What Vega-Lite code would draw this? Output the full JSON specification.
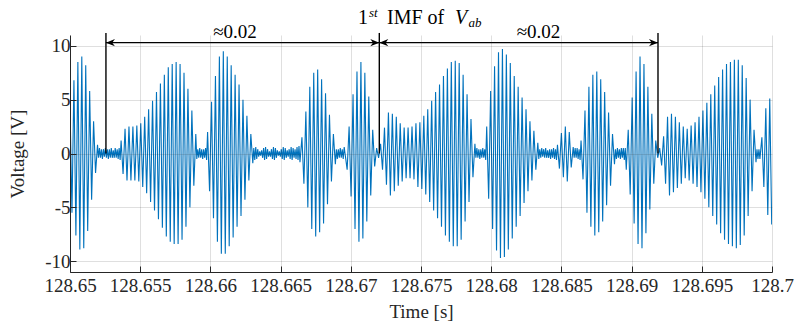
{
"$schema":"https://vega.github.io/schema/vega-lite/v6.json",
"width":702,"height":237,
"autosize":{"type":"none"},
"padding":{"left":70,"top":35,"right":23,"bottom":56},
"background":"white",
"config":{"view":{"stroke":null},"font":"Liberation Serif","text":{"font":"Liberation Serif"}},
"datasets":{
"sig":[
{"t":128.65000,"v":4.5},{"t":128.65014,"v":-5.5},{"t":128.65028,"v":6.8},{"t":128.65042,"v":-7.6},{"t":128.65056,"v":8.5},{"t":128.65070,"v":-8.9},{"t":128.65084,"v":9.0},{"t":128.65098,"v":-8.8},{"t":128.65112,"v":8.2},{"t":128.65126,"v":-7.2},
{"t":128.65140,"v":5.8},{"t":128.65154,"v":-4.3},{"t":128.65168,"v":3.0},{"t":128.65182,"v":-1.8},{"t":128.65196,"v":0.8},
{"t":128.65203,"v":-0.4},{"t":128.65210,"v":0.5},{"t":128.65217,"v":-0.4},{"t":128.65224,"v":0.4},{"t":128.65231,"v":-0.5},{"t":128.65238,"v":0.4},{"t":128.65245,"v":-0.3},{"t":128.65252,"v":0.5},{"t":128.65259,"v":-0.4},{"t":128.65266,"v":0.4},{"t":128.65273,"v":-0.5},{"t":128.65280,"v":0.4},{"t":128.65287,"v":-0.4},{"t":128.65294,"v":0.5},{"t":128.65301,"v":-0.4},{"t":128.65308,"v":0.3},{"t":128.65315,"v":-0.4},{"t":128.65322,"v":0.5},{"t":128.65329,"v":-0.4},{"t":128.65336,"v":0.4},{"t":128.65343,"v":-0.5},{"t":128.65350,"v":0.5},{"t":128.65357,"v":-0.6},
{"t":128.65364,"v":1.2},{"t":128.65378,"v":-1.9},{"t":128.65392,"v":2.3},{"t":128.65406,"v":-2.5},
{"t":128.65420,"v":2.5},{"t":128.65434,"v":-2.5},{"t":128.65448,"v":2.5},{"t":128.65462,"v":-2.5},{"t":128.65476,"v":2.6},{"t":128.65490,"v":-2.6},{"t":128.65504,"v":2.8},{"t":128.65518,"v":-3.1},{"t":128.65532,"v":3.4},{"t":128.65546,"v":-3.7},
{"t":128.65560,"v":4.1},{"t":128.65574,"v":-4.5},{"t":128.65588,"v":4.9},{"t":128.65602,"v":-5.3},{"t":128.65616,"v":5.7},{"t":128.65630,"v":-6.1},{"t":128.65644,"v":6.5},{"t":128.65658,"v":-6.9},{"t":128.65672,"v":7.3},{"t":128.65686,"v":-7.7},
{"t":128.65700,"v":8.0},{"t":128.65714,"v":-8.2},{"t":128.65728,"v":8.3},{"t":128.65742,"v":-8.4},{"t":128.65756,"v":8.5},{"t":128.65770,"v":-8.4},{"t":128.65784,"v":8.3},{"t":128.65798,"v":-8.0},{"t":128.65812,"v":7.5},{"t":128.65826,"v":-6.8},
{"t":128.65840,"v":6.0},{"t":128.65854,"v":-5.0},{"t":128.65868,"v":4.0},{"t":128.65882,"v":-3.0},{"t":128.65896,"v":1.8},
{"t":128.65903,"v":-0.5},{"t":128.65910,"v":0.4},{"t":128.65917,"v":-0.4},{"t":128.65924,"v":0.5},{"t":128.65931,"v":-0.4},{"t":128.65938,"v":0.4},{"t":128.65945,"v":-0.5},{"t":128.65952,"v":0.4},{"t":128.65959,"v":-0.4},{"t":128.65966,"v":0.5},{"t":128.65973,"v":-0.6},
{"t":128.65980,"v":2.0},{"t":128.65994,"v":-3.5},{"t":128.66008,"v":4.8},{"t":128.66022,"v":-6.0},{"t":128.66036,"v":7.2},{"t":128.66050,"v":-8.2},{"t":128.66064,"v":9.0},{"t":128.66078,"v":-9.3},{"t":128.66092,"v":9.5},{"t":128.66106,"v":-9.3},
{"t":128.66120,"v":9.0},{"t":128.66134,"v":-8.6},{"t":128.66148,"v":8.2},{"t":128.66162,"v":-7.8},{"t":128.66176,"v":7.3},{"t":128.66190,"v":-6.8},{"t":128.66204,"v":6.4},{"t":128.66218,"v":-5.8},{"t":128.66232,"v":5.0},{"t":128.66246,"v":-4.3},
{"t":128.66260,"v":3.5},{"t":128.66274,"v":-2.5},{"t":128.66288,"v":1.8},{"t":128.66302,"v":-0.9},
{"t":128.66309,"v":0.5},{"t":128.66316,"v":-0.6},{"t":128.66323,"v":0.6},{"t":128.66330,"v":-0.5},{"t":128.66337,"v":0.4},{"t":128.66344,"v":-0.3},{"t":128.66351,"v":0.2},{"t":128.66358,"v":-0.2},{"t":128.66365,"v":0.3},{"t":128.66372,"v":-0.4},
{"t":128.66379,"v":0.5},{"t":128.66386,"v":-0.6},{"t":128.66393,"v":0.6},{"t":128.66400,"v":-0.5},{"t":128.66407,"v":0.4},{"t":128.66414,"v":-0.3},{"t":128.66421,"v":0.2},{"t":128.66428,"v":-0.3},{"t":128.66435,"v":0.4},{"t":128.66442,"v":-0.5},
{"t":128.66449,"v":0.6},{"t":128.66456,"v":-0.6},{"t":128.66463,"v":0.5},{"t":128.66470,"v":-0.4},{"t":128.66477,"v":0.3},{"t":128.66484,"v":-0.2},{"t":128.66491,"v":0.2},{"t":128.66498,"v":-0.3},{"t":128.66505,"v":0.4},{"t":128.66512,"v":-0.5},
{"t":128.66519,"v":0.6},{"t":128.66526,"v":-0.6},{"t":128.66533,"v":0.5},{"t":128.66540,"v":-0.4},{"t":128.66547,"v":0.3},{"t":128.66554,"v":-0.3},{"t":128.66561,"v":0.4},{"t":128.66568,"v":-0.5},{"t":128.66575,"v":0.6},{"t":128.66582,"v":-0.6},
{"t":128.66589,"v":0.5},{"t":128.66596,"v":-0.4},{"t":128.66603,"v":0.4},{"t":128.66610,"v":-0.5},{"t":128.66617,"v":0.6},{"t":128.66624,"v":-0.6},{"t":128.66631,"v":0.7},{"t":128.66638,"v":-0.8},
{"t":128.66652,"v":1.5},{"t":128.66666,"v":-2.8},
{"t":128.66680,"v":3.9},{"t":128.66694,"v":-5.0},{"t":128.66708,"v":6.2},{"t":128.66722,"v":-7.0},{"t":128.66736,"v":7.5},{"t":128.66750,"v":-7.7},{"t":128.66764,"v":7.8},{"t":128.66778,"v":-7.3},{"t":128.66792,"v":6.9},{"t":128.66806,"v":-6.5},
{"t":128.66820,"v":5.6},{"t":128.66834,"v":-4.7},{"t":128.66848,"v":3.6},{"t":128.66862,"v":-2.6},{"t":128.66876,"v":1.8},{"t":128.66890,"v":-1.0},
{"t":128.66897,"v":0.4},{"t":128.66904,"v":-0.5},{"t":128.66911,"v":0.4},{"t":128.66918,"v":-0.4},{"t":128.66925,"v":0.5},{"t":128.66932,"v":-0.4},{"t":128.66939,"v":0.4},{"t":128.66946,"v":-0.5},{"t":128.66953,"v":0.6},
{"t":128.66974,"v":-1.5},{"t":128.66988,"v":2.5},{"t":128.67002,"v":-4.0},{"t":128.67016,"v":5.5},{"t":128.67030,"v":-7.0},{"t":128.67044,"v":7.6},{"t":128.67058,"v":-8.2},{"t":128.67072,"v":8.5},{"t":128.67086,"v":-7.9},
{"t":128.67100,"v":7.5},{"t":128.67114,"v":-6.3},{"t":128.67128,"v":5.3},{"t":128.67142,"v":-3.9},{"t":128.67156,"v":2.2},{"t":128.67170,"v":-1.2},{"t":128.67184,"v":0.5},{"t":128.67198,"v":-0.4},{"t":128.67212,"v":0.9},{"t":128.67226,"v":-1.5},
{"t":128.67240,"v":2.4},{"t":128.67254,"v":-2.9},{"t":128.67268,"v":3.8},{"t":128.67282,"v":-3.9},{"t":128.67296,"v":3.7},{"t":128.67310,"v":-3.5},{"t":128.67324,"v":3.4},{"t":128.67338,"v":-3.0},{"t":128.67352,"v":2.8},{"t":128.67366,"v":-2.6},
{"t":128.67380,"v":2.4},{"t":128.67394,"v":-2.3},{"t":128.67408,"v":2.4},{"t":128.67422,"v":-2.3},{"t":128.67436,"v":2.5},{"t":128.67450,"v":-2.4},{"t":128.67464,"v":2.8},{"t":128.67478,"v":-3.1},{"t":128.67492,"v":2.9},{"t":128.67506,"v":-3.3},
{"t":128.67520,"v":3.5},{"t":128.67534,"v":-3.8},{"t":128.67548,"v":4.1},{"t":128.67562,"v":-4.5},{"t":128.67576,"v":4.9},{"t":128.67590,"v":-5.3},{"t":128.67604,"v":5.7},{"t":128.67618,"v":-6.0},{"t":128.67632,"v":6.4},{"t":128.67646,"v":-6.8},
{"t":128.67660,"v":7.2},{"t":128.67674,"v":-7.6},{"t":128.67688,"v":7.9},{"t":128.67702,"v":-8.2},{"t":128.67716,"v":8.5},{"t":128.67730,"v":-8.6},{"t":128.67744,"v":8.6},{"t":128.67758,"v":-8.6},{"t":128.67772,"v":8.4},{"t":128.67786,"v":-8.0},
{"t":128.67800,"v":7.3},{"t":128.67814,"v":-6.3},{"t":128.67828,"v":5.5},{"t":128.67842,"v":-4.5},{"t":128.67856,"v":3.2},{"t":128.67870,"v":-2.2},{"t":128.67884,"v":0.9},
{"t":128.67891,"v":-0.4},{"t":128.67898,"v":0.5},{"t":128.67905,"v":-0.4},{"t":128.67912,"v":0.4},{"t":128.67919,"v":-0.5},{"t":128.67926,"v":0.4},{"t":128.67933,"v":-0.4},{"t":128.67940,"v":0.5},{"t":128.67947,"v":-0.4},{"t":128.67954,"v":0.4},{"t":128.67961,"v":-0.6},
{"t":128.67968,"v":2.5},{"t":128.67982,"v":-4.2},{"t":128.67996,"v":5.8},{"t":128.68010,"v":-7.0},{"t":128.68024,"v":8.1},{"t":128.68038,"v":-9.0},{"t":128.68052,"v":9.4},{"t":128.68066,"v":-9.7},
{"t":128.68080,"v":9.7},{"t":128.68094,"v":-9.6},{"t":128.68108,"v":9.2},{"t":128.68122,"v":-8.9},{"t":128.68136,"v":8.4},{"t":128.68150,"v":-7.9},{"t":128.68164,"v":7.2},{"t":128.68178,"v":-6.8},{"t":128.68192,"v":6.2},{"t":128.68206,"v":-5.8},
{"t":128.68220,"v":5.2},{"t":128.68234,"v":-4.6},{"t":128.68248,"v":4.1},{"t":128.68262,"v":-3.5},{"t":128.68276,"v":3.0},{"t":128.68290,"v":-2.5},{"t":128.68304,"v":2.1},{"t":128.68318,"v":-1.5},{"t":128.68332,"v":1.0},
{"t":128.68339,"v":-0.5},{"t":128.68346,"v":0.4},{"t":128.68353,"v":-0.4},{"t":128.68360,"v":0.5},{"t":128.68367,"v":-0.3},{"t":128.68374,"v":0.4},{"t":128.68381,"v":-0.4},{"t":128.68388,"v":0.5},{"t":128.68395,"v":-0.4},{"t":128.68402,"v":0.3},{"t":128.68409,"v":-0.4},{"t":128.68416,"v":0.4},{"t":128.68423,"v":-0.5},{"t":128.68430,"v":0.4},{"t":128.68437,"v":-0.4},{"t":128.68444,"v":0.5},{"t":128.68451,"v":-0.5},{"t":128.68458,"v":0.4},{"t":128.68465,"v":-0.6},
{"t":128.68472,"v":0.8},{"t":128.68486,"v":-1.4},
{"t":128.68500,"v":1.9},{"t":128.68514,"v":-2.2},{"t":128.68528,"v":2.5},{"t":128.68542,"v":-2.6},{"t":128.68556,"v":2.0},{"t":128.68570,"v":-1.3},{"t":128.68584,"v":0.6},
{"t":128.68591,"v":-0.4},{"t":128.68598,"v":0.5},{"t":128.68605,"v":-0.4},{"t":128.68612,"v":0.5},{"t":128.68619,"v":-0.5},{"t":128.68626,"v":0.4},{"t":128.68633,"v":-0.6},
{"t":128.68640,"v":1.2},{"t":128.68654,"v":-2.4},{"t":128.68668,"v":4.0},{"t":128.68682,"v":-5.5},{"t":128.68696,"v":6.2},{"t":128.68710,"v":-6.8},{"t":128.68724,"v":7.3},{"t":128.68738,"v":-7.6},{"t":128.68752,"v":7.6},{"t":128.68766,"v":-7.3},
{"t":128.68780,"v":6.9},{"t":128.68794,"v":-6.3},{"t":128.68808,"v":5.7},{"t":128.68822,"v":-4.8},{"t":128.68836,"v":3.8},{"t":128.68850,"v":-3.0},{"t":128.68864,"v":1.8},{"t":128.68878,"v":-1.0},
{"t":128.68885,"v":0.4},{"t":128.68892,"v":-0.5},{"t":128.68899,"v":0.5},{"t":128.68906,"v":-0.4},{"t":128.68913,"v":0.4},{"t":128.68920,"v":-0.5},{"t":128.68927,"v":0.5},{"t":128.68934,"v":-0.4},{"t":128.68941,"v":0.5},{"t":128.68948,"v":-0.6},{"t":128.68955,"v":0.5},
{"t":128.68962,"v":-1.5},{"t":128.68976,"v":2.2},{"t":128.68990,"v":-3.8},{"t":128.69004,"v":5.2},{"t":128.69018,"v":-6.5},{"t":128.69032,"v":7.6},{"t":128.69046,"v":-8.4},
{"t":128.69060,"v":9.0},{"t":128.69074,"v":-8.8},{"t":128.69088,"v":8.3},{"t":128.69102,"v":-7.4},{"t":128.69116,"v":6.2},{"t":128.69130,"v":-5.2},{"t":128.69144,"v":3.7},{"t":128.69158,"v":-2.8},{"t":128.69172,"v":1.2},{"t":128.69186,"v":-0.4},
{"t":128.69200,"v":0.5},{"t":128.69214,"v":-1.1},{"t":128.69228,"v":1.6},{"t":128.69242,"v":-2.8},{"t":128.69256,"v":3.4},{"t":128.69270,"v":-3.9},{"t":128.69284,"v":3.7},{"t":128.69298,"v":-3.6},{"t":128.69312,"v":3.4},{"t":128.69326,"v":-3.2},
{"t":128.69340,"v":2.9},{"t":128.69354,"v":-2.8},{"t":128.69368,"v":2.5},{"t":128.69382,"v":-2.3},{"t":128.69396,"v":2.3},{"t":128.69410,"v":-2.5},{"t":128.69424,"v":2.6},{"t":128.69438,"v":-2.8},{"t":128.69452,"v":2.9},{"t":128.69466,"v":-3.1},
{"t":128.69480,"v":3.4},{"t":128.69494,"v":-3.6},{"t":128.69508,"v":4.0},{"t":128.69522,"v":-4.2},{"t":128.69536,"v":4.7},{"t":128.69550,"v":-5.0},{"t":128.69564,"v":5.5},{"t":128.69578,"v":-5.8},{"t":128.69592,"v":6.3},{"t":128.69606,"v":-6.6},
{"t":128.69620,"v":7.1},{"t":128.69634,"v":-7.4},{"t":128.69648,"v":7.8},{"t":128.69662,"v":-8.0},{"t":128.69676,"v":8.3},{"t":128.69690,"v":-8.4},{"t":128.69704,"v":8.5},{"t":128.69718,"v":-8.6},{"t":128.69732,"v":8.7},{"t":128.69746,"v":-8.8},
{"t":128.69760,"v":8.7},{"t":128.69774,"v":-8.5},{"t":128.69788,"v":8.2},{"t":128.69802,"v":-7.6},{"t":128.69816,"v":7.0},{"t":128.69830,"v":-5.8},{"t":128.69844,"v":5.0},{"t":128.69858,"v":-3.5},{"t":128.69872,"v":2.2},{"t":128.69886,"v":-0.8},
{"t":128.69893,"v":0.4},{"t":128.69900,"v":-0.5},{"t":128.69907,"v":0.4},{"t":128.69914,"v":-0.5},{"t":128.69928,"v":1.5},{"t":128.69942,"v":-3.1},{"t":128.69956,"v":4.2},{"t":128.69970,"v":-5.7},{"t":128.69984,"v":5.1},{"t":128.69998,"v":-6.6}
],
"vlines":[{"t":128.65256,"top":11.19,"bot":0},{"t":128.67203,"top":11.19,"bot":0},{"t":128.69188,"top":11.19,"bot":0}],
"arrows":[{"t1":128.65256,"t2":128.67203,"y":10.29},{"t1":128.67203,"t2":128.69188,"y":10.29}],
"heads":[{"t":128.65256,"y":10.29,"dir":"L"},{"t":128.67203,"y":10.29,"dir":"R"},{"t":128.67203,"y":10.29,"dir":"L"},{"t":128.69188,"y":10.29,"dir":"R"}],
"approx":[{"t":128.66175,"y":10.69,"s":"≈0.02"},{"t":128.68337,"y":10.69,"s":"≈0.02"}]
},
"layer":[
{"data":{"name":"sig"},"mark":{"type":"line","color":"#0072BD","strokeWidth":1.1,"clip":true},
 "encoding":{
  "x":{"field":"t","type":"quantitative","scale":{"domain":[128.65,128.7],"nice":false,"zero":false},
   "axis":{"title":"Time [s]","values":[128.65,128.655,128.66,128.665,128.67,128.675,128.68,128.685,128.69,128.695,128.7],"format":"~f","labelFont":"Liberation Serif","titleFont":"Liberation Serif","labelFontSize":19,"titleFontSize":19,"titleFontWeight":"normal","labelColor":"#262626","titleColor":"#262626","domainColor":"#262626","tickColor":"#262626","tickSize":-6,"labelPadding":10,"titlePadding":7,"gridColor":"#262626","gridOpacity":0.15,"labelFlush":false,"labelOverlap":false,"zindex":1}},
  "y":{"field":"v","type":"quantitative","scale":{"domain":[-11,11],"nice":false,"zero":false},
   "axis":{"title":"Voltage [V]","values":[-10,-5,0,5,10],"labelExpr":"toString(datum.value)","labelFont":"Liberation Serif","titleFont":"Liberation Serif","labelFontSize":19,"titleFontSize":19,"titleFontWeight":"normal","labelColor":"#262626","titleColor":"#262626","domainColor":"#262626","tickColor":"#262626","tickSize":-6,"labelPadding":6,"titlePadding":17,"gridColor":"#262626","gridOpacity":0.15,"zindex":1}}
 }},
{"data":{"name":"vlines"},"mark":{"type":"rule","color":"black","strokeWidth":1.4,"clip":false},
 "encoding":{"x":{"field":"t","type":"quantitative"},"y":{"field":"top","type":"quantitative"},"y2":{"field":"bot"}}},
{"data":{"name":"arrows"},"mark":{"type":"rule","color":"black","strokeWidth":1.4,"clip":false},
 "encoding":{"x":{"field":"t1","type":"quantitative"},"x2":{"field":"t2"},"y":{"field":"y","type":"quantitative"}}},
{"data":{"name":"heads"},"mark":{"type":"point","filled":true,"color":"black","opacity":1,"size":324,"clip":false},
 "encoding":{"x":{"field":"t","type":"quantitative"},"y":{"field":"y","type":"quantitative"},
  "shape":{"field":"dir","type":"nominal","scale":{"domain":["L","R"],"range":["M0,0L1,-0.4L0.7,0L1,0.4Z","M0,0L-1,-0.4L-0.7,0L-1,0.4Z"]},"legend":null}}},
{"data":{"name":"approx"},"mark":{"type":"text","font":"Liberation Serif","fontSize":19,"align":"center","baseline":"alphabetic","color":"black","clip":false},
 "encoding":{"x":{"field":"t","type":"quantitative"},"y":{"field":"y","type":"quantitative"},"text":{"field":"s"}}},
{"data":{"values":[{"t":128.67051,"y":12.02,"s":"1"},{"t":128.67258,"y":12.02,"s":"IMF of"}]},"mark":{"type":"text","font":"Liberation Serif","fontSize":20,"align":"left","baseline":"alphabetic","color":"black","clip":false},
 "encoding":{"x":{"field":"t","type":"quantitative"},"y":{"field":"y","type":"quantitative"},"text":{"field":"s"}}},
{"data":{"values":[{"t":128.67742,"y":12.02,"s":"V"}]},"mark":{"type":"text","font":"Liberation Serif","fontSize":20,"fontStyle":"italic","align":"left","baseline":"alphabetic","color":"black","clip":false},
 "encoding":{"x":{"field":"t","type":"quantitative"},"y":{"field":"y","type":"quantitative"},"text":{"field":"s"}}},
{"data":{"values":[{"t":128.67129,"y":12.70,"s":"st"},{"t":128.67838,"y":11.74,"s":"ab"}]},"mark":{"type":"text","font":"Liberation Serif","fontSize":13,"fontStyle":"italic","align":"left","baseline":"alphabetic","color":"black","clip":false},
 "encoding":{"x":{"field":"t","type":"quantitative"},"y":{"field":"y","type":"quantitative"},"text":{"field":"s"}}}
]
}
